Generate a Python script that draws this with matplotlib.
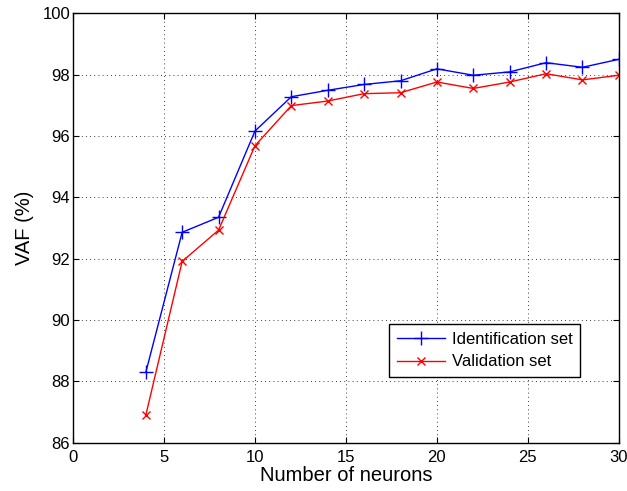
import matplotlib
matplotlib.use('Agg')
import matplotlib.pyplot as plt

plt.rcParams['font.family'] = ['Liberation Sans', 'DejaVu Sans']

# number of neurons
neurons = [4, 6, 8, 10, 12, 14, 16, 18, 20, 22, 24, 26, 28, 30]

# VAF values
vaf_ident = [88.29, 92.86, 93.35, 96.16, 97.28, 97.49, 97.68, 97.80, 98.19,
             97.98, 98.09, 98.39, 98.24, 98.50]
vaf_valid = [86.89, 91.91, 92.93, 95.68, 96.99, 97.14, 97.38, 97.41, 97.76,
             97.55, 97.76, 98.03, 97.83, 97.98]

xticks = [0, 5, 10, 15, 20, 25, 30]
yticks = [86, 88, 90, 92, 94, 96, 98, 100]

fig = plt.figure(figsize=(6.27, 4.91), dpi=100)
ax = fig.add_axes([0.1164, 0.0984, 0.8706, 0.8745])

ax.plot(neurons, vaf_ident, color='blue', marker='+', markersize=10,
        linewidth=1, label='Identification set')
ax.plot(neurons, vaf_valid, color='red', marker='x', markersize=6,
        linewidth=1, label='Validation set')

ax.set_xlim(0, 30)
ax.set_ylim(86, 100)
ax.set_xticks(xticks)
ax.set_yticks(yticks)
ax.grid(True, color='black', linestyle=(0, (1, 4)), linewidth=0.6)
ax.tick_params(direction='in', top=True, right=True, labelsize=12, length=4)
ax.tick_params(axis='y', pad=2)
ax.tick_params(axis='x', pad=5)
for s in ax.spines.values():
    s.set_linewidth(1.0)

ax.set_xlabel('Number of neurons', fontsize=14.5, labelpad=1)
ax.set_ylabel('VAF (%)', fontsize=14.5, labelpad=6)

leg = ax.legend(loc='lower right', bbox_to_anchor=(0.929, 0.153), fontsize=12,
                fancybox=False, edgecolor='black', framealpha=1,
                handlelength=2.9, handletextpad=0.4, borderpad=0.45,
                labelspacing=0.45, borderaxespad=0)
leg.get_frame().set_linewidth(1.0)

fig.savefig('out.png', dpi=100)
